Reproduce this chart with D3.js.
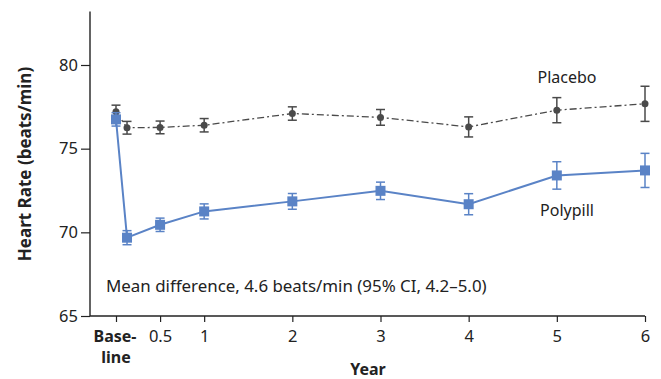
<!DOCTYPE html>
<html>
<head>
<meta charset="utf-8">
<script src="https://cdn.jsdelivr.net/npm/d3@7"></script>
<style>
  body { margin: 0; background: #fff; }
  text { font-family: "Noto Sans", sans-serif; fill: #222; }
</style>
</head>
<body>
<svg id="chart" width="661" height="379"></svg>
<script>
// Years of follow-up (0 = baseline)
const years = [0, 0.125, 0.5, 1, 2, 3, 4, 5, 6];
const placeboMean = [77.2, 76.25, 76.27, 76.4, 77.1, 76.87, 76.3, 77.3, 77.68];
const placeboErr  = [0.4, 0.38, 0.38, 0.4, 0.4, 0.47, 0.6, 0.75, 1.05];
const polypillMean = [76.75, 69.68, 70.45, 71.25, 71.85, 72.48, 71.68, 73.4, 73.7];
const polypillErr  = [0.4, 0.42, 0.4, 0.45, 0.47, 0.52, 0.63, 0.82, 1.02];
const xTicks = [0.5, 1, 2, 3, 4, 5, 6];
const yTicks = [65, 70, 75, 80];

const svg = d3.select('#chart');

// Scales
const x = d3.scaleLinear().domain([0, 6]).range([116, 645]);
const y = d3.scaleLinear().domain([65, 80]).range([316, 65]);

const placeboColor = '#4a4a4a';
const polyColor = '#5a83c6';

// Y axis
const yAxis = svg.append('g')
    .attr('transform', 'translate(90,0)')
    .call(d3.axisLeft(y).tickValues(yTicks).tickSize(9).tickPadding(3));
yAxis.select('.domain').attr('d', `M0,${y(83.2)}V${y(65)}`);

// X axis
const xAxis = svg.append('g')
    .attr('transform', `translate(0,${y(65)})`)
    .call(d3.axisBottom(x).tickValues([0].concat(xTicks)).tickFormat(d => d === 0 ? '' : d3.format('')(d)).tickSize(6).tickPadding(8));
xAxis.select('.domain').attr('d', `M90,0H${x(6)}`);

svg.selectAll('.tick line').attr('stroke', '#222').attr('stroke-width', 1.2);
svg.selectAll('.domain').attr('stroke', '#222').attr('stroke-width', 1.4);
svg.selectAll('.tick text').style('font-size', '16.5px').attr('fill', '#222');

// Baseline label
const base = svg.append('text')
    .attr('text-anchor', 'middle')
    .style('font-size', '16px')
    .style('font-weight', 'bold');
base.append('tspan').attr('x', x(0) - 1).attr('y', 342).text('Base-');
base.append('tspan').attr('x', x(0)).attr('y', 363).text('line');

// Axis titles
svg.append('text')
    .attr('x', 368).attr('y', 375)
    .attr('text-anchor', 'middle')
    .style('font-size', '16px').style('font-weight', 'bold')
    .text('Year');

svg.append('text')
    .attr('transform', 'translate(31,164) rotate(-90)')
    .attr('text-anchor', 'middle')
    .style('font-size', '17px').style('font-weight', 'bold')
    .text('Heart Rate (beats/min)');

// Series
function drawSeries(mean, err, color, dash, marker) {
    const pts = years.map((t, i) => ({ t, m: mean[i], e: err[i] }));
    const g = svg.append('g');

    g.append('path')
        .datum(pts)
        .attr('fill', 'none')
        .attr('stroke', color)
        .attr('stroke-width', marker === 'square' ? 2 : 1.3)
        .attr('stroke-dasharray', dash)
        .attr('d', d3.line().x(d => x(d.t)).y(d => y(d.m)));

    const eb = g.selectAll('.eb').data(pts).enter().append('g')
        .attr('stroke', color).attr('stroke-width', 1.5);
    eb.append('line')
        .attr('x1', d => x(d.t)).attr('x2', d => x(d.t))
        .attr('y1', d => y(d.m + d.e)).attr('y2', d => y(d.m - d.e));
    eb.append('line')
        .attr('x1', d => x(d.t) - 4.5).attr('x2', d => x(d.t) + 4.5)
        .attr('y1', d => y(d.m + d.e)).attr('y2', d => y(d.m + d.e));
    eb.append('line')
        .attr('x1', d => x(d.t) - 4.5).attr('x2', d => x(d.t) + 4.5)
        .attr('y1', d => y(d.m - d.e)).attr('y2', d => y(d.m - d.e));

    if (marker === 'square') {
        g.selectAll('.mk').data(pts).enter().append('rect')
            .attr('x', d => x(d.t) - 5).attr('y', d => y(d.m) - 5)
            .attr('width', 10).attr('height', 10)
            .attr('fill', color);
    } else {
        g.selectAll('.mk').data(pts).enter().append('circle')
            .attr('cx', d => x(d.t)).attr('cy', d => y(d.m))
            .attr('r', 3.5)
            .attr('fill', color);
    }
}

drawSeries(placeboMean, placeboErr, placeboColor, '7,3,2,3', 'circle');
drawSeries(polypillMean, polypillErr, polyColor, null, 'square');

// Labels
svg.append('text')
    .attr('x', 567).attr('y', 83)
    .attr('text-anchor', 'middle')
    .style('font-size', '16px')
    .text('Placebo');

svg.append('text')
    .attr('x', 567).attr('y', 216)
    .attr('text-anchor', 'middle')
    .style('font-size', '16px')
    .text('Polypill');

svg.append('text')
    .attr('x', 106).attr('y', 292)
    .style('font-size', '16.9px')
    .text('Mean difference, 4.6 beats/min (95% CI, 4.2\u20135.0)');
</script>
</body>
</html>
